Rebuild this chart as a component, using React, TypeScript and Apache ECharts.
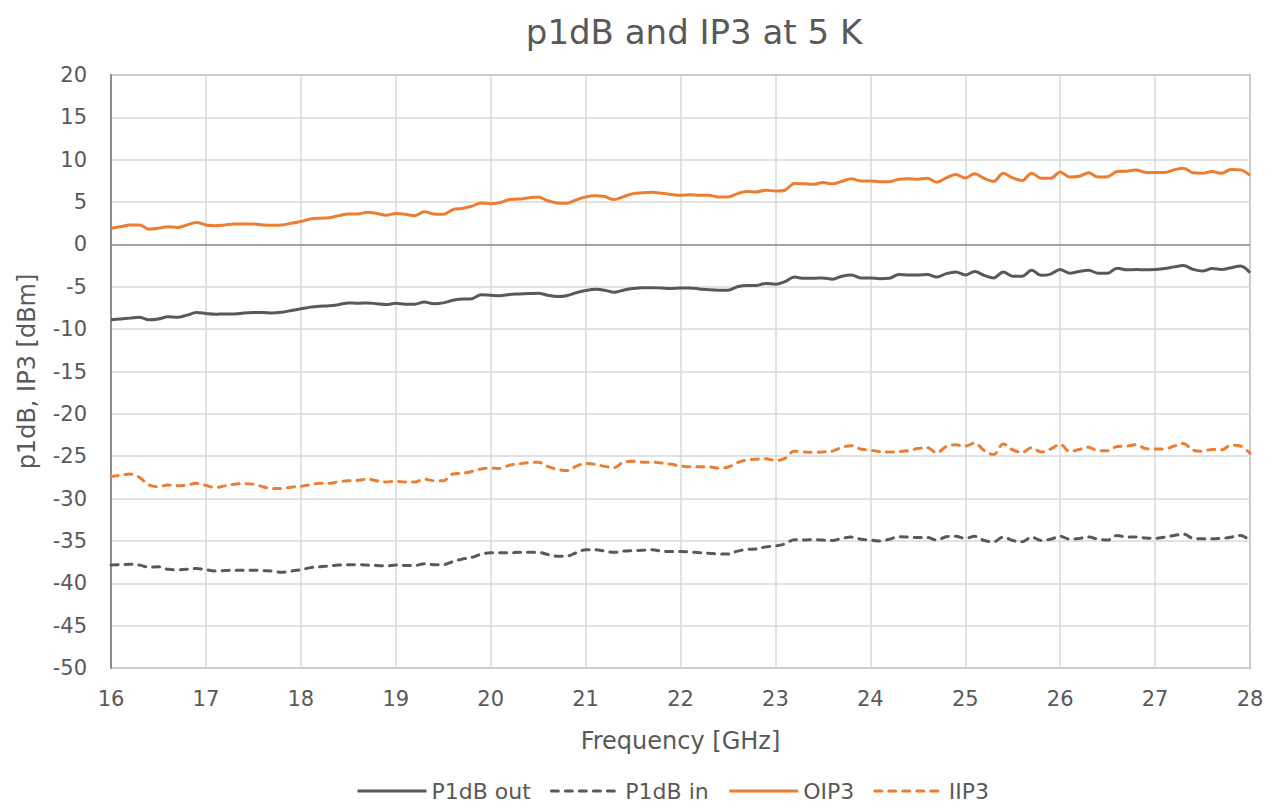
import React, { useEffect, useRef } from "react";
import * as echarts from "echarts";

const freq = [
  16.0, 16.1, 16.2, 16.3, 16.4, 16.5, 16.6, 16.7, 16.8, 16.9,
  17.0, 17.1, 17.2, 17.3, 17.4, 17.5, 17.6, 17.7, 17.8, 17.9,
  18.0, 18.1, 18.2, 18.3, 18.4, 18.5, 18.6, 18.7, 18.8, 18.9,
  19.0, 19.1, 19.2, 19.3, 19.4, 19.5, 19.6, 19.7, 19.8, 19.9,
  20.0, 20.1, 20.2, 20.3, 20.4, 20.5, 20.6, 20.7, 20.8, 20.9,
  21.0, 21.1, 21.2, 21.3, 21.4, 21.5, 21.6, 21.7, 21.8, 21.9,
  22.0, 22.1, 22.2, 22.3, 22.4, 22.5, 22.6, 22.7, 22.8, 22.9,
  23.0, 23.1, 23.2, 23.3, 23.4, 23.5, 23.6, 23.7, 23.8, 23.9,
  24.0, 24.1, 24.2, 24.3, 24.4, 24.5, 24.6, 24.7, 24.8, 24.9,
  25.0, 25.1, 25.2, 25.3, 25.4, 25.5, 25.6, 25.7, 25.8, 25.9,
  26.0, 26.1, 26.2, 26.3, 26.4, 26.5, 26.6, 26.7, 26.8, 26.9,
  27.0, 27.1, 27.2, 27.3, 27.4, 27.5, 27.6, 27.7, 27.8, 27.9,
  28.0,
];

const p1dbOut = [
  -8.9, -8.8, -8.7, -8.6, -8.9, -8.8, -8.55, -8.6, -8.35, -8.05,
  -8.15, -8.25, -8.2, -8.2, -8.1, -8.05, -8.05, -8.1, -8.0, -7.8,
  -7.6, -7.4, -7.3, -7.25, -7.1, -6.9, -6.95, -6.9, -7.0, -7.1,
  -6.95, -7.05, -7.05, -6.8, -7.0, -6.9, -6.6, -6.45, -6.4, -5.95,
  -6.0, -6.05, -5.9, -5.85, -5.8, -5.75, -6.0, -6.15, -6.05, -5.7,
  -5.45, -5.3, -5.4, -5.65, -5.4, -5.2, -5.1, -5.1, -5.15, -5.2,
  -5.15, -5.15, -5.25, -5.35, -5.4, -5.4, -5.0, -4.85, -4.85, -4.6,
  -4.7, -4.4, -3.85, -4.0, -4.0, -3.95, -4.1, -3.75, -3.6, -3.95,
  -3.95, -4.05, -4.0, -3.55, -3.6, -3.6, -3.55, -3.85, -3.45, -3.25,
  -3.6, -3.2, -3.65, -3.95, -3.25, -3.75, -3.75, -3.05, -3.65, -3.5,
  -2.95, -3.4, -3.2, -3.05, -3.4, -3.4, -2.8, -3.0, -2.95, -3.0,
  -2.95, -2.85, -2.65, -2.5, -2.95, -3.15, -2.85, -2.95, -2.75, -2.55,
  -3.35,
];

const p1dbIn = [
  -37.85, -37.8, -37.75, -37.85, -38.1, -38.05, -38.35, -38.4, -38.35, -38.25,
  -38.4, -38.55, -38.5, -38.45, -38.45, -38.45, -38.5, -38.55, -38.7, -38.55,
  -38.4, -38.15, -38.05, -37.95, -37.85, -37.8, -37.8, -37.85, -37.9, -37.95,
  -37.85, -37.9, -37.9, -37.7, -37.8, -37.8, -37.45, -37.15, -36.95, -36.55,
  -36.4, -36.4, -36.4, -36.35, -36.35, -36.35, -36.6, -36.8, -36.8, -36.4,
  -36.05, -36.05, -36.2, -36.35, -36.2, -36.15, -36.1, -36.05, -36.2, -36.25,
  -36.25, -36.3, -36.4, -36.45, -36.55, -36.55, -36.2, -36.0, -35.95, -35.7,
  -35.6, -35.35, -34.85, -34.9, -34.85, -34.9, -34.95, -34.7, -34.55, -34.8,
  -34.9, -35.0, -34.8, -34.5, -34.55, -34.6, -34.6, -34.9, -34.5, -34.45,
  -34.7, -34.45, -34.95, -35.1, -34.55, -34.95, -35.1, -34.55, -34.95, -34.8,
  -34.45, -34.8, -34.7, -34.55, -34.8, -34.9, -34.35, -34.55, -34.55, -34.65,
  -34.7, -34.55, -34.35, -34.2, -34.7, -34.75, -34.75, -34.7, -34.55, -34.35,
  -34.95,
];

const oip3 = [
  1.9, 2.1, 2.3, 2.3, 1.8, 1.9, 2.1, 2.0, 2.3, 2.6,
  2.3, 2.2, 2.3, 2.4, 2.4, 2.4, 2.3, 2.25, 2.3, 2.5,
  2.7, 3.0, 3.1, 3.15, 3.4, 3.6, 3.6, 3.8, 3.65, 3.45,
  3.65, 3.55, 3.4, 3.85, 3.6, 3.55, 4.1, 4.25, 4.5, 4.9,
  4.8, 4.95, 5.3, 5.35, 5.5, 5.6, 5.15, 4.9, 4.85, 5.25,
  5.6, 5.75, 5.65, 5.3, 5.65, 6.0, 6.1, 6.15, 6.05, 5.9,
  5.8, 5.85, 5.8, 5.8, 5.6, 5.6, 6.0, 6.25, 6.2, 6.4,
  6.3, 6.4, 7.2, 7.15, 7.1, 7.3, 7.15, 7.45, 7.75, 7.5,
  7.5, 7.4, 7.4, 7.7, 7.75, 7.7, 7.8, 7.35, 7.85, 8.25,
  7.85, 8.35, 7.8, 7.45, 8.4, 7.85, 7.55, 8.4, 7.8, 7.8,
  8.55, 7.95, 8.05, 8.45, 7.95, 8.0, 8.6, 8.65, 8.8, 8.5,
  8.5, 8.5, 8.8, 9.0, 8.45, 8.4, 8.6, 8.4, 8.85, 8.8,
  8.15,
];

const iip3 = [
  -27.4, -27.25, -27.1, -27.5, -28.4, -28.6, -28.4, -28.5, -28.4, -28.2,
  -28.45, -28.7, -28.5, -28.3, -28.25, -28.3, -28.6, -28.8, -28.8, -28.65,
  -28.55, -28.35, -28.2, -28.2, -28.0, -27.9, -27.85, -27.7, -27.9, -28.05,
  -27.95, -28.05, -28.05, -27.7, -27.9, -27.9, -27.1, -27.0, -26.8, -26.5,
  -26.4, -26.45, -26.05, -25.9, -25.75, -25.7, -26.2, -26.55, -26.7, -26.2,
  -25.85, -25.95, -26.2, -26.35, -25.7, -25.6, -25.7, -25.7, -25.8, -25.95,
  -26.15, -26.25, -26.25, -26.25, -26.4, -26.3, -25.75, -25.45, -25.35, -25.3,
  -25.5, -25.25, -24.4, -24.5, -24.55, -24.5, -24.4, -23.95, -23.75, -24.15,
  -24.3, -24.45, -24.5, -24.45, -24.35, -24.1, -24.0, -24.6, -23.85, -23.65,
  -23.8, -23.45, -24.35, -24.8, -23.55, -24.25, -24.55, -24.0, -24.5, -24.15,
  -23.6, -24.45, -24.2, -23.95, -24.35, -24.35, -23.85, -23.8, -23.65, -24.1,
  -24.15, -24.15, -23.8, -23.5, -24.3, -24.4, -24.2, -24.25, -23.7, -23.8,
  -24.65,
];

const seriesNames = ["P1dB out", "P1dB in", "OIP3", "IIP3"];
const GRAY = "#595959";
const ORANGE = "#ED7D31";
const TEXT = "#595959";
const FONT = "'DejaVu Sans', Roboto, sans-serif";

const pair = (ys: number[]) => freq.map((x, i) => [x, ys[i]]);

export default function App() {
  const ref = useRef<HTMLDivElement>(null);

  useEffect(() => {
    document.body.style.margin = "0";
    if (!ref.current) return;
    const chart = echarts.init(ref.current, null, { renderer: "svg" });

    const mk = (name: string, data: number[], color: string, dashed: boolean, extra: any = {}) => ({
      name,
      type: "line",
      data: pair(data),
      smooth: 0.35,
      symbol: "none",
      showSymbol: false,
      color,
      lineStyle: {
        color,
        width: 3,
        type: dashed ? [7, 7] : "solid",
        cap: dashed ? "round" : "butt",
        join: "round",
      },
      ...extra,
    });

    chart.setOption({
      animation: false,
      backgroundColor: "#ffffff",
      textStyle: { fontFamily: FONT },
      title: {
        text: "p1dB and IP3 at 5 K",
        left: 689,
        textAlign: "center",
        top: 10,
        textStyle: { color: TEXT, fontSize: 34, fontWeight: "normal", fontFamily: FONT },
      },
      legend: {
        data: seriesNames,
        left: 356,
        top: 780,
        padding: 0,
        itemWidth: 69,
        itemHeight: 2,
        itemGap: 19,
        itemStyle: { opacity: 0 },
        lineStyle: { width: 3 },
        textStyle: { color: TEXT, fontSize: 22, fontFamily: FONT },
      },
      grid: {
        left: 111,
        right: 22,
        top: 75,
        bottom: 137,
        show: true,
        borderColor: "#A6A6A6",
        borderWidth: 2,
        backgroundColor: "transparent",
      },
      xAxis: {
        type: "value",
        min: 16,
        max: 28,
        interval: 1,
        name: "Frequency [GHz]",
        nameLocation: "middle",
        nameGap: 61,
        nameTextStyle: { color: TEXT, fontSize: 24, fontFamily: FONT },
        axisLine: { show: false, onZero: false },
        axisTick: { show: false },
        axisLabel: { color: TEXT, fontSize: 21, margin: 20, fontFamily: FONT },
        splitLine: { show: true, lineStyle: { color: "#D9D9D9", width: 1.5 } },
      },
      yAxis: {
        type: "value",
        min: -50,
        max: 20,
        interval: 5,
        name: "p1dB, IP3 [dBm]",
        nameLocation: "middle",
        nameGap: 72,
        nameTextStyle: { color: TEXT, fontSize: 24, fontFamily: FONT },
        axisLine: { show: true, lineStyle: { color: "#8C8C8C", width: 2 } },
        axisTick: { show: false },
        axisLabel: { color: TEXT, fontSize: 21, margin: 24, fontFamily: FONT },
        splitLine: { show: true, lineStyle: { color: "#D9D9D9", width: 1.5 } },
      },
      series: [
        mk(seriesNames[0], p1dbOut, GRAY, false, {
          markLine: {
            silent: true,
            symbol: ["none", "none"],
            label: { show: false },
            lineStyle: { color: "#8C8C8C", type: "solid", width: 1.5 },
            data: [{ yAxis: 0 }],
          },
        }),
        mk(seriesNames[1], p1dbIn, GRAY, true),
        mk(seriesNames[2], oip3, ORANGE, false),
        mk(seriesNames[3], iip3, ORANGE, true),
      ],
    });

    return () => chart.dispose();
  }, []);

  return <div ref={ref} style={{ width: 1272, height: 805 }} />;
}
